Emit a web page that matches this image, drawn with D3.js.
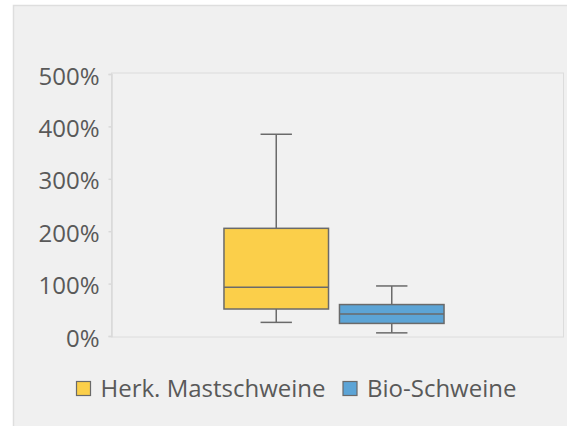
<!DOCTYPE html>
<html>
<head>
<meta charset="utf-8">
<script src="https://cdn.jsdelivr.net/npm/d3@7"></script>
<style>
  html, body { margin: 0; padding: 0; background: #ffffff; }
  svg { display: block; }
  text { font-family: "Open Sans", "Noto Sans", sans-serif; fill: #595959; }
</style>
</head>
<body>
<svg id="chart" width="567" height="426"></svg>
<script>
// Series and their five-number summaries (share of reference value)
const seriesNames = ["Herk. Mastschweine", "Bio-Schweine"];
const seriesColors = ["#fbcf4a", "#5ca4d6"];
const minValues    = [0.26, 0.06];
const q1Values     = [0.515, 0.24];
const medianValues = [0.93, 0.42];
const q3Values     = [2.055, 0.60];
const maxValues    = [3.85, 0.955];
const yTicks       = [0, 1, 2, 3, 4, 5];

const svg = d3.select("#chart");
const W = 567, H = 426;
const fontSize = 24;

// chart panel
svg.append("rect")
  .attr("x", 13.5).attr("y", 5.5)
  .attr("width", W).attr("height", H)
  .attr("fill", "#f0f0f0")
  .attr("stroke", "#dedede").attr("stroke-width", 1.5);

const plot = { left: 111.5, right: 563.5, top: 73, bottom: 337 };

const y = d3.scaleLinear().domain([0, 5]).range([plot.bottom - 1, plot.top + 1]);

// plot area frame
svg.append("rect")
  .attr("x", plot.left).attr("y", plot.top)
  .attr("width", plot.right - plot.left).attr("height", plot.bottom - plot.top)
  .attr("fill", "#f1f1f1")
  .attr("stroke", "#dcdcdc").attr("stroke-width", 1);

// value axis
const yAxis = d3.axisLeft(y)
  .tickValues(yTicks)
  .tickSize(3)
  .tickPadding(9)
  .tickFormat(d3.format(".0%"));

const gy = svg.append("g")
  .attr("transform", `translate(${plot.left},0)`)
  .call(yAxis);
gy.select(".domain").attr("stroke", "#d9d9d9").attr("stroke-width", 1.5);
gy.selectAll(".tick line").attr("stroke", "#d9d9d9").attr("stroke-width", 1.5);
gy.selectAll(".tick text")
  .attr("font-size", fontSize)
  .attr("dy", "0.42em")
  .attr("fill", "#595959")
  .style("font-family", '"Open Sans", sans-serif');

// single category band, series bands inside it
const xCat = d3.scaleBand().domain(["all"]).range([plot.left, plot.right]).paddingOuter(0.527).paddingInner(0);
const xSer = d3.scaleBand().domain(seriesNames)
  .range([xCat("all") - 3.5, xCat("all") - 3.5 + xCat.bandwidth()])
  .paddingInner(0.095).paddingOuter(0);

const boxes = seriesNames.map((name, i) => ({
  name, color: seriesColors[i],
  min: minValues[i], q1: q1Values[i], med: medianValues[i], q3: q3Values[i], max: maxValues[i]
}));

const g = svg.append("g").selectAll("g").data(boxes).join("g");
const stroke = "#6a6a6a";
const capFrac = 0.3;
const cx = d => xSer(d.name) + xSer.bandwidth() / 2;

// whiskers
g.append("line")
  .attr("x1", cx).attr("x2", cx)
  .attr("y1", d => y(d.max)).attr("y2", d => y(d.q3))
  .attr("stroke", stroke).attr("stroke-width", 1.5);
g.append("line")
  .attr("x1", cx).attr("x2", cx)
  .attr("y1", d => y(d.q1)).attr("y2", d => y(d.min))
  .attr("stroke", stroke).attr("stroke-width", 1.5);
// caps
["max", "min"].forEach(k => {
  g.append("line")
    .attr("x1", d => xSer(d.name) + xSer.bandwidth() * (0.5 - capFrac / 2))
    .attr("x2", d => xSer(d.name) + xSer.bandwidth() * (0.5 + capFrac / 2))
    .attr("y1", d => y(d[k])).attr("y2", d => y(d[k]))
    .attr("stroke", stroke).attr("stroke-width", 1.5);
});
// boxes
g.append("rect")
  .attr("x", d => xSer(d.name))
  .attr("width", xSer.bandwidth())
  .attr("y", d => y(d.q3))
  .attr("height", d => y(d.q1) - y(d.q3))
  .attr("fill", d => d.color)
  .attr("stroke", stroke).attr("stroke-width", 1.5);
// medians
g.append("line")
  .attr("x1", d => xSer(d.name))
  .attr("x2", d => xSer(d.name) + xSer.bandwidth())
  .attr("y1", d => y(d.med)).attr("y2", d => y(d.med))
  .attr("stroke", stroke).attr("stroke-width", 1.5);

// legend
const legendX = [76.5, 343];
const lg = svg.append("g").selectAll("g").data(boxes).join("g")
  .attr("transform", (d, i) => `translate(${legendX[i]},381.5)`);
lg.append("rect")
  .attr("width", 14).attr("height", 14)
  .attr("fill", d => d.color)
  .attr("stroke", "#6a6a6a").attr("stroke-width", 1.2);
lg.append("text")
  .attr("x", 24).attr("y", 15.5)
  .attr("font-size", fontSize)
  .text(d => d.name);
</script>
</body>
</html>
